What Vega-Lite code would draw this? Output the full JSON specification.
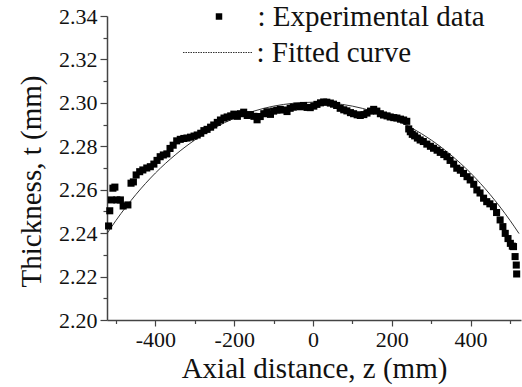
{
  "$schema": "https://vega.github.io/schema/vega-lite/v6.json",
  "autosize": {"type": "none"},
  "width": 414,
  "height": 304,
  "padding": {"left": 107, "top": 16, "right": 1, "bottom": 67},
  "background": "white",
  "view": {"stroke": null},
  "config": {
    "font": "Liberation Serif",
    "axis": {
      "grid": false,
      "domainColor": "#444",
      "domainWidth": 1.5,
      "tickColor": "#444",
      "tickWidth": 1.2,
      "labelFont": "Liberation Serif",
      "labelFontSize": 22,
      "labelColor": "#111",
      "titleFont": "Liberation Serif",
      "titleFontSize": 29,
      "titleFontWeight": "normal",
      "titleColor": "#111",
      "labelOverlap": false,
      "labelFlush": false
    },
    "legend": {
      "labelFont": "Liberation Serif",
      "labelFontSize": 29,
      "labelColor": "#111",
      "labelLimit": 400,
      "padding": 0,
      "title": null
    }
  },
  "datasets": {
    "exp": [
      {"z": -519, "t": 2.2433, "kind": "Experimental data"},
      {"z": -516, "t": 2.2503, "kind": "Experimental data"},
      {"z": -512, "t": 2.2553, "kind": "Experimental data"},
      {"z": -508, "t": 2.2607, "kind": "Experimental data"},
      {"z": -503, "t": 2.2612, "kind": "Experimental data"},
      {"z": -498, "t": 2.2553, "kind": "Experimental data"},
      {"z": -489, "t": 2.2553, "kind": "Experimental data"},
      {"z": -482, "t": 2.2525, "kind": "Experimental data"},
      {"z": -470, "t": 2.2530, "kind": "Experimental data"},
      {"z": -462, "t": 2.2630, "kind": "Experimental data"},
      {"z": -456, "t": 2.2636, "kind": "Experimental data"},
      {"z": -449, "t": 2.2668, "kind": "Experimental data"},
      {"z": -440, "t": 2.2683, "kind": "Experimental data"},
      {"z": -432, "t": 2.2691, "kind": "Experimental data"},
      {"z": -422, "t": 2.2700, "kind": "Experimental data"},
      {"z": -413, "t": 2.2706, "kind": "Experimental data"},
      {"z": -404, "t": 2.2718, "kind": "Experimental data"},
      {"z": -396, "t": 2.2735, "kind": "Experimental data"},
      {"z": -388, "t": 2.2752, "kind": "Experimental data"},
      {"z": -380, "t": 2.2760, "kind": "Experimental data"},
      {"z": -371, "t": 2.2765, "kind": "Experimental data"},
      {"z": -363, "t": 2.2790, "kind": "Experimental data"},
      {"z": -355, "t": 2.2805, "kind": "Experimental data"},
      {"z": -346, "t": 2.2825, "kind": "Experimental data"},
      {"z": -337, "t": 2.2832, "kind": "Experimental data"},
      {"z": -328, "t": 2.2836, "kind": "Experimental data"},
      {"z": -320, "t": 2.2838, "kind": "Experimental data"},
      {"z": -311, "t": 2.2842, "kind": "Experimental data"},
      {"z": -302, "t": 2.2847, "kind": "Experimental data"},
      {"z": -294, "t": 2.2852, "kind": "Experimental data"},
      {"z": -285, "t": 2.2860, "kind": "Experimental data"},
      {"z": -277, "t": 2.2872, "kind": "Experimental data"},
      {"z": -269, "t": 2.2878, "kind": "Experimental data"},
      {"z": -260, "t": 2.2888, "kind": "Experimental data"},
      {"z": -252, "t": 2.2898, "kind": "Experimental data"},
      {"z": -243, "t": 2.2910, "kind": "Experimental data"},
      {"z": -235, "t": 2.2921, "kind": "Experimental data"},
      {"z": -226, "t": 2.2930, "kind": "Experimental data"},
      {"z": -218, "t": 2.2935, "kind": "Experimental data"},
      {"z": -209, "t": 2.2940, "kind": "Experimental data"},
      {"z": -201, "t": 2.2948, "kind": "Experimental data"},
      {"z": -192, "t": 2.2938, "kind": "Experimental data"},
      {"z": -184, "t": 2.2950, "kind": "Experimental data"},
      {"z": -176, "t": 2.2957, "kind": "Experimental data"},
      {"z": -167, "t": 2.2942, "kind": "Experimental data"},
      {"z": -159, "t": 2.2946, "kind": "Experimental data"},
      {"z": -150, "t": 2.2938, "kind": "Experimental data"},
      {"z": -142, "t": 2.2922, "kind": "Experimental data"},
      {"z": -134, "t": 2.2937, "kind": "Experimental data"},
      {"z": -125, "t": 2.2950, "kind": "Experimental data"},
      {"z": -117, "t": 2.2959, "kind": "Experimental data"},
      {"z": -108, "t": 2.2947, "kind": "Experimental data"},
      {"z": -100, "t": 2.2962, "kind": "Experimental data"},
      {"z": -92, "t": 2.2966, "kind": "Experimental data"},
      {"z": -83, "t": 2.2970, "kind": "Experimental data"},
      {"z": -75, "t": 2.2967, "kind": "Experimental data"},
      {"z": -66, "t": 2.2960, "kind": "Experimental data"},
      {"z": -58, "t": 2.2975, "kind": "Experimental data"},
      {"z": -50, "t": 2.2980, "kind": "Experimental data"},
      {"z": -41, "t": 2.2985, "kind": "Experimental data"},
      {"z": -32, "t": 2.2982, "kind": "Experimental data"},
      {"z": -24, "t": 2.2988, "kind": "Experimental data"},
      {"z": -15, "t": 2.2979, "kind": "Experimental data"},
      {"z": -7, "t": 2.2978, "kind": "Experimental data"},
      {"z": 2, "t": 2.2985, "kind": "Experimental data"},
      {"z": 10, "t": 2.2993, "kind": "Experimental data"},
      {"z": 19, "t": 2.3000, "kind": "Experimental data"},
      {"z": 27, "t": 2.3004, "kind": "Experimental data"},
      {"z": 35, "t": 2.3003, "kind": "Experimental data"},
      {"z": 44, "t": 2.2999, "kind": "Experimental data"},
      {"z": 52, "t": 2.2994, "kind": "Experimental data"},
      {"z": 60, "t": 2.2988, "kind": "Experimental data"},
      {"z": 69, "t": 2.2975, "kind": "Experimental data"},
      {"z": 78, "t": 2.2968, "kind": "Experimental data"},
      {"z": 86, "t": 2.2963, "kind": "Experimental data"},
      {"z": 95, "t": 2.2955, "kind": "Experimental data"},
      {"z": 103, "t": 2.2950, "kind": "Experimental data"},
      {"z": 112, "t": 2.2945, "kind": "Experimental data"},
      {"z": 120, "t": 2.2942, "kind": "Experimental data"},
      {"z": 129, "t": 2.2946, "kind": "Experimental data"},
      {"z": 137, "t": 2.2953, "kind": "Experimental data"},
      {"z": 146, "t": 2.2962, "kind": "Experimental data"},
      {"z": 154, "t": 2.2970, "kind": "Experimental data"},
      {"z": 162, "t": 2.2962, "kind": "Experimental data"},
      {"z": 171, "t": 2.2950, "kind": "Experimental data"},
      {"z": 179, "t": 2.2944, "kind": "Experimental data"},
      {"z": 188, "t": 2.2940, "kind": "Experimental data"},
      {"z": 196, "t": 2.2935, "kind": "Experimental data"},
      {"z": 205, "t": 2.2932, "kind": "Experimental data"},
      {"z": 213, "t": 2.2930, "kind": "Experimental data"},
      {"z": 222, "t": 2.2925, "kind": "Experimental data"},
      {"z": 230, "t": 2.2921, "kind": "Experimental data"},
      {"z": 238, "t": 2.2915, "kind": "Experimental data"},
      {"z": 243, "t": 2.2880, "kind": "Experimental data"},
      {"z": 247, "t": 2.2867, "kind": "Experimental data"},
      {"z": 252, "t": 2.2855, "kind": "Experimental data"},
      {"z": 258, "t": 2.2848, "kind": "Experimental data"},
      {"z": 265, "t": 2.2838, "kind": "Experimental data"},
      {"z": 272, "t": 2.2829, "kind": "Experimental data"},
      {"z": 280, "t": 2.2822, "kind": "Experimental data"},
      {"z": 289, "t": 2.2810, "kind": "Experimental data"},
      {"z": 298, "t": 2.2800, "kind": "Experimental data"},
      {"z": 306, "t": 2.2791, "kind": "Experimental data"},
      {"z": 315, "t": 2.2782, "kind": "Experimental data"},
      {"z": 323, "t": 2.2772, "kind": "Experimental data"},
      {"z": 332, "t": 2.2762, "kind": "Experimental data"},
      {"z": 340, "t": 2.2752, "kind": "Experimental data"},
      {"z": 348, "t": 2.2735, "kind": "Experimental data"},
      {"z": 357, "t": 2.2718, "kind": "Experimental data"},
      {"z": 365, "t": 2.2699, "kind": "Experimental data"},
      {"z": 374, "t": 2.2690, "kind": "Experimental data"},
      {"z": 382, "t": 2.2675, "kind": "Experimental data"},
      {"z": 391, "t": 2.2660, "kind": "Experimental data"},
      {"z": 399, "t": 2.2645, "kind": "Experimental data"},
      {"z": 408, "t": 2.2625, "kind": "Experimental data"},
      {"z": 416, "t": 2.2599, "kind": "Experimental data"},
      {"z": 424, "t": 2.2585, "kind": "Experimental data"},
      {"z": 433, "t": 2.2561, "kind": "Experimental data"},
      {"z": 441, "t": 2.2545, "kind": "Experimental data"},
      {"z": 449, "t": 2.2535, "kind": "Experimental data"},
      {"z": 458, "t": 2.2522, "kind": "Experimental data"},
      {"z": 466, "t": 2.2495, "kind": "Experimental data"},
      {"z": 475, "t": 2.2461, "kind": "Experimental data"},
      {"z": 482, "t": 2.2430, "kind": "Experimental data"},
      {"z": 488, "t": 2.2399, "kind": "Experimental data"},
      {"z": 495, "t": 2.2375, "kind": "Experimental data"},
      {"z": 501, "t": 2.2353, "kind": "Experimental data"},
      {"z": 506, "t": 2.2340, "kind": "Experimental data"},
      {"z": 509, "t": 2.2338, "kind": "Experimental data"},
      {"z": 513, "t": 2.2292, "kind": "Experimental data"},
      {"z": 516, "t": 2.2253, "kind": "Experimental data"},
      {"z": 517, "t": 2.2212, "kind": "Experimental data"}
    ],
    "fit": [
      {"z": -523, "t": 2.2398, "curve": "Fitted curve"},
      {"z": -500, "t": 2.2459, "curve": "Fitted curve"},
      {"z": -450, "t": 2.2577, "curve": "Fitted curve"},
      {"z": -400, "t": 2.2677, "curve": "Fitted curve"},
      {"z": -350, "t": 2.2760, "curve": "Fitted curve"},
      {"z": -300, "t": 2.2829, "curve": "Fitted curve"},
      {"z": -250, "t": 2.2885, "curve": "Fitted curve"},
      {"z": -200, "t": 2.2929, "curve": "Fitted curve"},
      {"z": -150, "t": 2.2962, "curve": "Fitted curve"},
      {"z": -100, "t": 2.2985, "curve": "Fitted curve"},
      {"z": -50, "t": 2.2998, "curve": "Fitted curve"},
      {"z": 0, "t": 2.3003, "curve": "Fitted curve"},
      {"z": 50, "t": 2.2998, "curve": "Fitted curve"},
      {"z": 100, "t": 2.2985, "curve": "Fitted curve"},
      {"z": 150, "t": 2.2962, "curve": "Fitted curve"},
      {"z": 200, "t": 2.2929, "curve": "Fitted curve"},
      {"z": 250, "t": 2.2885, "curve": "Fitted curve"},
      {"z": 300, "t": 2.2829, "curve": "Fitted curve"},
      {"z": 350, "t": 2.2760, "curve": "Fitted curve"},
      {"z": 400, "t": 2.2677, "curve": "Fitted curve"},
      {"z": 450, "t": 2.2577, "curve": "Fitted curve"},
      {"z": 500, "t": 2.2459, "curve": "Fitted curve"},
      {"z": 523, "t": 2.2398, "curve": "Fitted curve"}
    ]
  },
  "encoding": {
    "x": {
      "field": "z",
      "type": "quantitative",
      "scale": {"domain": [-523, 528], "nice": false, "zero": false},
      "axis": {
        "title": "Axial distance, z (mm)",
        "values": [-500, -400, -300, -200, -100, 0, 100, 200, 300, 400, 500],
        "labelExpr": "datum.value % 200 === 0 ? (datum.value < 0 ? '-' : '') + abs(datum.value) : ''",
        "tickSize": {"condition": {"test": "datum.value % 200 === 0", "value": 6}, "value": 3.5},
        "labelPadding": 3,
        "titlePadding": 4
      }
    },
    "y": {
      "field": "t",
      "type": "quantitative",
      "scale": {"domain": [2.2, 2.34], "nice": false, "zero": false},
      "axis": {
        "title": "Thickness, t (mm)",
        "values": [2.2, 2.21, 2.22, 2.23, 2.24, 2.25, 2.26, 2.27, 2.28, 2.29, 2.3, 2.31, 2.32, 2.33, 2.34],
        "labelExpr": "round(datum.value * 100) % 2 === 0 ? format(datum.value, '.2f') : ''",
        "tickSize": {"condition": {"test": "round(datum.value * 100) % 2 === 0", "value": 7}, "value": 4},
        "labelPadding": 3,
        "titlePadding": 12,
        "titleY": 165
      }
    }
  },
  "layer": [
    {
      "data": {"name": "fit"},
      "mark": {"type": "line", "strokeWidth": 1, "interpolate": "monotone"},
      "encoding": {
        "stroke": {
          "field": "curve",
          "type": "nominal",
          "scale": {"range": ["#333333"]},
          "legend": {
            "orient": "none",
            "legendX": 75.5,
            "legendY": 1,
            "symbolType": "stroke",
            "symbolSize": 4900,
            "symbolStrokeWidth": 1,
            "labelOffset": 3,
            "labelExpr": "': ' + datum.label",
            "encode": {"symbols": {"update": {"strokeDash": {"value": [1.5, 1]}}}}
          }
        }
      }
    },
    {
      "data": {"name": "exp"},
      "mark": {"type": "point", "filled": true, "size": 50, "color": "black", "opacity": 1},
      "encoding": {
        "shape": {
          "field": "kind",
          "type": "nominal",
          "scale": {"range": ["square"]},
          "legend": {
            "orient": "none",
            "legendX": 97.5,
            "legendY": -14,
            "symbolSize": 42,
            "symbolFillColor": "black",
            "symbolStrokeWidth": 0,
            "symbolOpacity": 1,
            "labelOffset": 24,
            "labelExpr": "': ' + datum.label"
          }
        }
      }
    }
  ]
}
